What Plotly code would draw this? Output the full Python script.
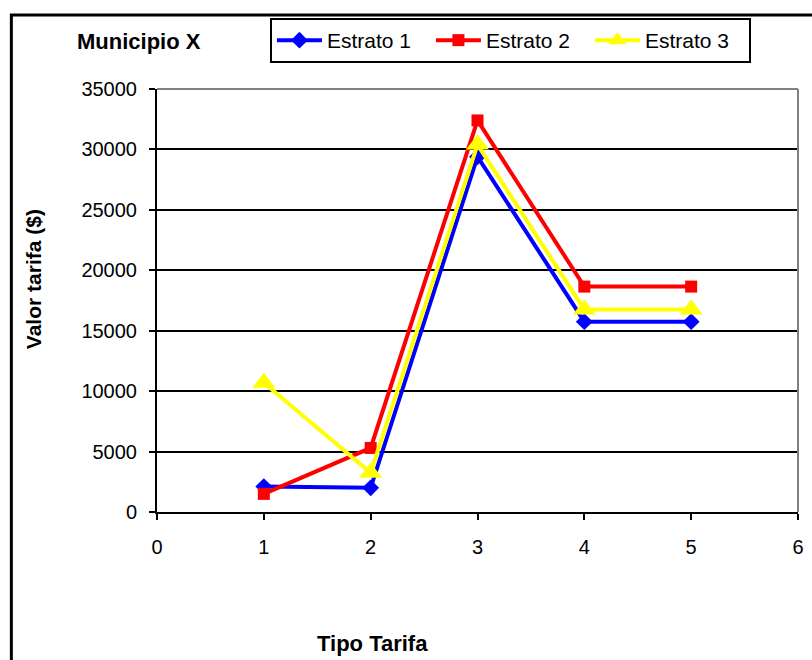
import plotly.graph_objects as go

# Tariff values per stratum, by tariff type
tipo_tarifa = [1, 2, 3, 4, 5]
estrato_1 = [2100, 2000, 29400, 15750, 15750]
estrato_2 = [1500, 5300, 32400, 18650, 18650]
estrato_3 = [10700, 3250, 30400, 16750, 16750]

series = [
    ("Estrato 1", estrato_1, "#0000FF", "diamond", 13),
    ("Estrato 2", estrato_2, "#FF0000", "square", 12),
    ("Estrato 3", estrato_3, "#FFFF00", "triangle-up", 20),
]

W, H = 812, 660
L, R, T, B = 157, 804, 89, 512  # plot-area edges in px

fig = go.Figure()
for name, vals, color, symbol, size in series:
    fig.add_trace(go.Scatter(
        x=tipo_tarifa, y=vals, name=name, mode="lines+markers",
        line=dict(color=color, width=4),
        marker=dict(symbol=symbol, size=size, color=color),
    ))


def px_x(px):
    return (px - L) / (R - L)


def px_y(py):
    return (B - py) / (B - T)


font = "Liberation Sans, Arial, sans-serif"

fig.update_layout(
    width=W, height=H,
    margin=dict(l=L, r=W - R, t=T, b=H - B),
    paper_bgcolor="white", plot_bgcolor="white",
    font=dict(family=font, color="black", size=20),
    showlegend=True,
    legend=dict(
        orientation="h", x=px_x(271), y=px_y(18), xanchor="left", yanchor="top",
        bordercolor="black", borderwidth=2, bgcolor="white",
        font=dict(size=21, family=font), itemwidth=45, entrywidth=99,
        tracegroupgap=0,
    ),
    xaxis=dict(
        range=[0, 6], dtick=1, tick0=0, showgrid=False, zeroline=False,
        showline=True, linecolor="black", linewidth=2,
        ticks="outside", ticklen=6, tickwidth=2, tickcolor="black",
        ticklabelstandoff=10, tickfont=dict(size=20),
    ),
    yaxis=dict(
        range=[0, 35000], dtick=5000, tick0=0, showgrid=True,
        gridcolor="black", gridwidth=2, zeroline=False,
        showline=True, linecolor="black", linewidth=2,
        ticks="outside", ticklen=6, tickwidth=2, tickcolor="black",
        ticklabelstandoff=8, tickfont=dict(size=20), tickformat="d",
    ),
    shapes=[
        # outer chart frame
        dict(type="rect", xref="paper", yref="paper",
             x0=px_x(10), x1=px_x(830), y0=px_y(680), y1=px_y(15),
             line=dict(color="black", width=3), layer="below"),
        # gray plot-area border, top and right
        dict(type="line", xref="paper", yref="paper", x0=0, x1=1, y0=1, y1=1,
             line=dict(color="#808080", width=2)),
        dict(type="line", xref="paper", yref="paper", x0=1, x1=1, y0=0, y1=1,
             line=dict(color="#808080", width=2)),
    ],
    annotations=[
        dict(text="<b>Municipio X</b>", xref="paper", yref="paper",
             x=px_x(74), y=px_y(42), xanchor="left", yanchor="middle",
             showarrow=False, font=dict(size=22, family=font)),
        dict(text="<b>Valor tarifa ($)</b>", xref="paper", yref="paper",
             x=px_x(32), y=px_y(279), xanchor="center", yanchor="middle",
             textangle=-90, showarrow=False, font=dict(size=21, family=font)),
        dict(text="<b>Tipo Tarifa</b>", xref="paper", yref="paper",
             x=px_x(375), y=px_y(643), xanchor="center", yanchor="middle",
             showarrow=False, font=dict(size=22, family=font)),
    ],
)

fig.write_html("out.html")
